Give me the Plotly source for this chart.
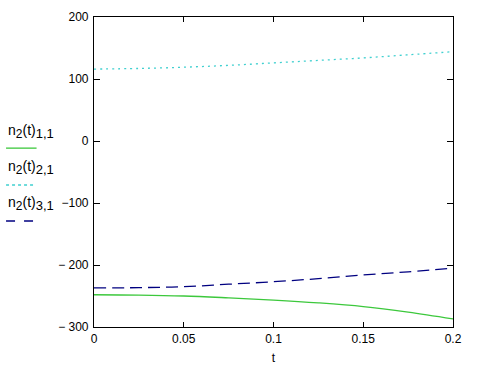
import plotly.graph_objects as go

t = [0, 0.025, 0.05, 0.075, 0.1, 0.125, 0.15, 0.175, 0.2]
n11 = [-248, -248.5, -250, -253, -256.5, -261, -267, -276, -287]
n21 = [116, 117, 119, 122, 126, 130, 134, 139, 144]
n31 = [-237, -236.5, -235, -231, -227, -222, -216, -211, -205]

x_ticks = [0, 0.05, 0.1, 0.15, 0.2]
x_labels = ["0", "0.05", "0.1", "0.15", "0.2"]
y_ticks = [-300, -200, -100, 0, 100, 200]
y_labels = ["\u2212 300", "\u2212 200", "\u2212100", "0", "100", "200"]

fig = go.Figure()
fig.add_trace(go.Scatter(x=t, y=n11, mode="lines", line=dict(color="#3cc83c", width=1.3, shape="spline"), showlegend=False))
fig.add_trace(go.Scatter(x=t, y=n21, mode="lines", line=dict(color="#40d0d0", width=1.3, dash="2px,4px", shape="spline"), showlegend=False))
fig.add_trace(go.Scatter(x=t, y=n31, mode="lines", line=dict(color="#000080", width=1.3, dash="12px,6px", shape="spline"), showlegend=False))

font = dict(family="Arial, Liberation Sans, sans-serif", size=12, color="black")
fig.update_layout(
    width=480, height=370,
    margin=dict(l=94, r=27, t=17, b=43),
    paper_bgcolor="white", plot_bgcolor="white",
    font=font,
    xaxis=dict(range=[0, 0.2], tickvals=x_ticks, ticktext=x_labels, ticks="inside", ticklen=5,
               tickcolor="black", showline=True, linecolor="black", linewidth=1.2, mirror="ticks",
               showgrid=False, zeroline=False, automargin=False,
               title=dict(text="t", font=font, standoff=9)),
    yaxis=dict(range=[-300, 200], tickvals=y_ticks, ticktext=y_labels, ticks="inside", ticklen=6,
               tickcolor="black", showline=True, linecolor="black", linewidth=1.2, mirror="ticks",
               showgrid=False, zeroline=False, ticklabelstandoff=2, automargin=False),
)

lfont = dict(family="Arial, Liberation Sans, sans-serif", size=14, color="black")
legend = [
    ("n<sub><span style='font-size:12px'>2</span></sub>(t)<sub><span style='font-size:13px'>1,1</span></sub>", "#3cc83c", "solid", 0.577, -0.16),
    ("n<sub><span style='font-size:12px'>2</span></sub>(t)<sub><span style='font-size:13px'>2,1</span></sub>", "#40d0d0", "dot", 0.458, -0.168),
    ("n<sub><span style='font-size:12px'>2</span></sub>(t)<sub><span style='font-size:13px'>3,1</span></sub>", "#000080", "dash", 0.342, -0.165),
]
for text, color, dash, yp, x1 in legend:
    fig.add_annotation(text=text, xref="paper", yref="paper", x=-0.245, y=yp + 0.055,
                       xanchor="left", yanchor="middle", showarrow=False, font=lfont)
    fig.add_shape(type="line", xref="paper", yref="paper", x0=-0.245, x1=x1, y0=yp, y1=yp,
                  line=dict(color=color, width=1.3, dash=dash))

fig.write_html("out.html", config={"displayModeBar": False},
               post_script="document.body.style.margin='0';document.body.style.padding='0';")
